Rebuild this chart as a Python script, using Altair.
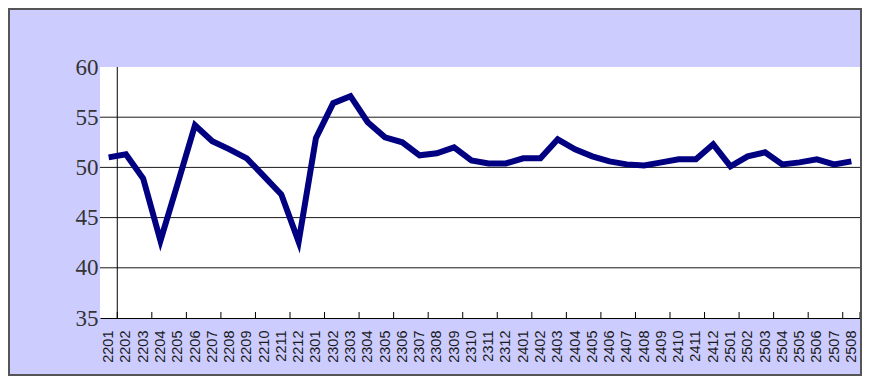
import altair as alt
import pandas as pd

months = ["2201", "2202", "2203", "2204", "2205", "2206", "2207", "2208", "2209", "2210", "2211", "2212",
          "2301", "2302", "2303", "2304", "2305", "2306", "2307", "2308", "2309", "2310", "2311", "2312",
          "2401", "2402", "2403", "2404", "2405", "2406", "2407", "2408", "2409", "2410", "2411", "2412",
          "2501", "2502", "2503", "2504", "2505", "2506", "2507", "2508"]
values = [51.0, 51.3, 48.9, 42.7, 48.4, 54.2, 52.6, 51.8, 50.9, 49.1, 47.3, 42.6,
          52.9, 56.4, 57.1, 54.5, 53.0, 52.5, 51.2, 51.4, 52.0, 50.7, 50.4, 50.4,
          50.9, 50.9, 52.8, 51.8, 51.1, 50.6, 50.3, 50.2, 50.5, 50.8, 50.8, 52.3,
          50.1, 51.1, 51.5, 50.3, 50.5, 50.8, 50.3, 50.6]
y_ticks = [35, 40, 45, 50, 55, 60]
grid_values = [40, 45, 50, 55]

n = len(months)
df = pd.DataFrame({"i": list(range(n)), "month": months, "value": values})

label_array = "[" + ",".join("'" + m + "'" for m in months) + "]"

W, H = 760, 251
x_scale = alt.Scale(domain=[-0.5, n - 0.5], nice=False, zero=False)
y_scale = alt.Scale(domain=[35, 60], nice=False, zero=False)

x_axis = alt.Axis(values=list(range(n)), labelExpr=label_array + "[datum.value]",
                  labelAngle=270, labelAlign="right", labelBaseline="middle",
                  labelPadding=12, labelFont="Liberation Sans", labelFontSize=14.5,
                  labelColor="#1a1a1a", labelOverlap=False, labelFlush=False,
                  labelBound=False, labelSeparation=0,
                  ticks=False, grid=False, domain=True, domainColor="#000",
                  domainWidth=1, title=None)
y_axis = alt.Axis(values=y_ticks, labelFont="Liberation Serif", labelFontSize=23,
                  labelColor="#333", labelPadding=2, labelBaseline="middle",
                  labelOverlap=False, ticks=False, grid=False, domain=False, title=None)

base = alt.Chart(df)

line = base.mark_line(color="#000080", strokeWidth=6, strokeJoin="miter").encode(
    x=alt.X("i:Q", scale=x_scale, axis=x_axis, title=None),
    y=alt.Y("value:Q", scale=y_scale, axis=y_axis, title=None),
)

grid = alt.Chart(pd.DataFrame({"g": grid_values})).mark_rule(color="#1a1a1a", strokeWidth=1).encode(
    y=alt.Y("g:Q", scale=y_scale, axis=y_axis, title=None),
    x=alt.value(0), x2=alt.value(W),
)

tick_pos = [i + 0.5 for i in range(0, n - 1, 2)] + [n - 0.5]
ticks = alt.Chart(pd.DataFrame({"t": tick_pos})).mark_rule(color="#000", strokeWidth=1).encode(
    x=alt.X("t:Q", scale=x_scale, axis=x_axis, title=None),
    y=alt.value(H), y2=alt.value(H - 6),
)

yaxis_line = alt.Chart(pd.DataFrame({"t": [0.5]})).mark_rule(color="#000", strokeWidth=1).encode(
    x=alt.X("t:Q", scale=x_scale, axis=x_axis, title=None),
    y=alt.value(0), y2=alt.value(H),
)

border = alt.Chart(pd.DataFrame({"a": [0]})).mark_rect(
    fill=None, stroke="#555", strokeWidth=2
).encode(
    x=alt.value(-91), x2=alt.value(W + 1),
    y=alt.value(-58), y2=alt.value(H + 57),
)

chart = alt.layer(grid, yaxis_line, ticks, line, border).properties(
    width=W, height=H,
    background="#CCCCFF",
    padding={"left": 92, "top": 59, "right": 2, "bottom": 58},
    autosize=alt.AutoSizeParams(type="none"),
).configure_view(fill="white", stroke=None)

chart.save("out.html", embed_options={"renderer": "svg", "actions": False})
